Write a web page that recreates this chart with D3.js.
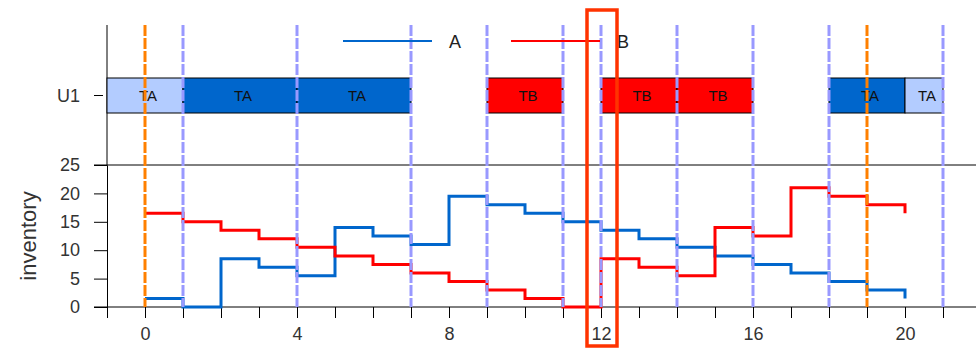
<!DOCTYPE html>
<html>
<head>
<meta charset="utf-8">
<script src="https://cdn.jsdelivr.net/npm/d3@7"></script>
<style>
  body { margin: 0; background: #fff; }
  text { font-family: Arial, "Liberation Sans", sans-serif; }
</style>
</head>
<body>
<div id="chart"></div>
<script>
// time points and inventory per series
var times = d3.range(0, 21);
var seriesA = [1.5, 0, 8.5, 7, 5.5, 14, 12.5, 11, 19.5, 18, 16.5, 15, 13.5, 12, 10.5, 9, 7.5, 6, 4.5, 3, 1.5];
var seriesB = [16.5, 15, 13.5, 12, 10.5, 9, 7.5, 6, 4.5, 3, 1.5, 0, 8.5, 7, 5.5, 14, 12.5, 21, 19.5, 18, 16.5];

// gantt tasks on unit U1
var taskStart = [-1, 1, 4, 9, 12, 14, 18, 20];
var taskEnd   = [1, 4, 7, 11, 14, 16, 20, 21];
var taskName  = ["TA", "TA", "TA", "TB", "TB", "TB", "TA", "TA"];
var taskKind  = ["setup", "A", "A", "B", "B", "B", "A", "setup"];

// event markers
var eventLines = [1, 4, 7, 9, 11, 12, 14, 16, 18, 21];
var orangeLines = [0, 19];
var yTicks = [0, 5, 10, 15, 20, 25];
var xLabels = [0, 4, 8, 12, 16, 20];

var W = 976, H = 349;
var svg = d3.select("#chart").append("svg")
    .attr("width", W).attr("height", H);

// scales
var x = d3.scaleLinear().domain([-1, 21]).range([107, 943]);
var y = d3.scaleLinear().domain([0, 25]).range([307, 165]);
var yTop = d3.scaleBand().domain(["U1"]).range([78, 113]).padding(0);

var kindColor = { setup: "#b3ccff", A: "#0066cc", B: "#ff0000" };
var tickFont = "18px";

// upper panel: left axis line
svg.append("line")
    .attr("x1", 107).attr("x2", 107).attr("y1", 25).attr("y2", 165)
    .attr("stroke", "#000");
svg.append("line")
    .attr("x1", 94).attr("x2", 103)
    .attr("y1", yTop("U1") + yTop.bandwidth() / 2)
    .attr("y2", yTop("U1") + yTop.bandwidth() / 2)
    .attr("stroke", "#000");
svg.append("text")
    .attr("x", 80).attr("y", yTop("U1") + yTop.bandwidth() / 2)
    .attr("dy", "0.35em").attr("text-anchor", "end")
    .style("font-size", tickFont).style("fill", "#333")
    .text("U1");

// gantt bars
var tasks = taskStart.map(function(s, i) {
  return { s: s, e: taskEnd[i], name: taskName[i], kind: taskKind[i] };
});
svg.selectAll(".task").data(tasks).enter().append("rect")
    .attr("class", "task")
    .attr("x", function(d) { return x(d.s); })
    .attr("width", function(d) { return x(d.e) - x(d.s); })
    .attr("y", yTop("U1"))
    .attr("height", yTop.bandwidth())
    .attr("fill", function(d) { return kindColor[d.kind]; })
    .attr("stroke", "#000").attr("stroke-width", 1);
svg.selectAll(".tasklabel").data(tasks).enter().append("text")
    .attr("x", function(d) { return (x(d.s) + x(d.e)) / 2 + 3; })
    .attr("y", yTop("U1") + yTop.bandwidth() / 2)
    .attr("dy", "0.36em").attr("text-anchor", "middle")
    .style("font-size", "15px").style("fill", "#111")
    .text(function(d) { return d.name; });

// lower panel: frame lines
svg.append("line")
    .attr("x1", 94).attr("x2", W).attr("y1", y(25)).attr("y2", y(25))
    .attr("stroke", "#000");
svg.append("line")
    .attr("x1", 94).attr("x2", W).attr("y1", y(0)).attr("y2", y(0))
    .attr("stroke", "#000");

// y axis
var gy = svg.append("g")
    .attr("transform", "translate(107,0)")
    .call(d3.axisLeft(y).tickValues(yTicks).tickSize(13).tickPadding(14));
gy.select(".domain").attr("stroke", "#000");
gy.selectAll("text").style("font-size", tickFont).style("fill", "#333")
    .style("font-family", "Arial, 'Liberation Sans', sans-serif");

svg.append("text")
    .attr("transform", "translate(36," + ((y(0) + y(25)) / 2) + ") rotate(-90)")
    .attr("text-anchor", "middle")
    .style("font-size", "22px").style("fill", "#333")
    .text("inventory");

// x axis
var gx = svg.append("g")
    .attr("transform", "translate(0," + y(0) + ")")
    .call(d3.axisBottom(x).tickValues(d3.range(-1, 22)).tickSize(11).tickPadding(9)
        .tickFormat(function(d) { return xLabels.indexOf(d) >= 0 ? d : ""; }));
gx.select(".domain").remove();
gx.selectAll("text").style("font-size", tickFont).style("fill", "#333")
    .style("font-family", "Arial, 'Liberation Sans', sans-serif");

// step lines
var step = d3.line()
    .x(function(d) { return x(d[0]); })
    .y(function(d) { return y(d[1]); })
    .curve(d3.curveStepAfter);

svg.append("path")
    .datum(times.map(function(t, i) { return [t, seriesA[i]]; }))
    .attr("d", step).attr("fill", "none")
    .attr("stroke", "#0066cc").attr("stroke-width", 3);
svg.append("path")
    .datum(times.map(function(t, i) { return [t, seriesB[i]]; }))
    .attr("d", step).attr("fill", "none")
    .attr("stroke", "#ff0000").attr("stroke-width", 3);

// vertical event lines
svg.selectAll(".evt").data(eventLines).enter().append("line")
    .attr("x1", function(d) { return x(d); }).attr("x2", function(d) { return x(d); })
    .attr("y1", 25).attr("y2", y(0))
    .attr("stroke", "#9999ff").attr("stroke-width", 3)
    .attr("stroke-dasharray", "11,2");
svg.selectAll(".evt2").data(orangeLines).enter().append("line")
    .attr("x1", function(d) { return x(d); }).attr("x2", function(d) { return x(d); })
    .attr("y1", 25).attr("y2", y(0))
    .attr("stroke", "#ff8000").attr("stroke-width", 3)
    .attr("stroke-dasharray", "11,2");

// legend
var legend = [{ name: "A", color: "#0066cc", x0: 343 }, { name: "B", color: "#ff0000", x0: 511 }];
var lg = svg.selectAll(".lg").data(legend).enter().append("g");
lg.append("line")
    .attr("x1", function(d) { return d.x0; }).attr("x2", function(d) { return d.x0 + 89; })
    .attr("y1", 41).attr("y2", 41)
    .attr("stroke", function(d) { return d.color; }).attr("stroke-width", 2);
lg.append("text")
    .attr("x", function(d) { return d.x0 + 106; }).attr("y", 42)
    .attr("dy", "0.35em")
    .style("font-size", tickFont).style("fill", "#222")
    .text(function(d) { return d.name; });

// highlight box around 12
svg.append("rect")
    .attr("x", x(12) - 14).attr("y", 10)
    .attr("width", 30).attr("height", 336)
    .attr("fill", "none").attr("stroke", "#ff3300").attr("stroke-width", 3.5);
</script>
</body>
</html>
